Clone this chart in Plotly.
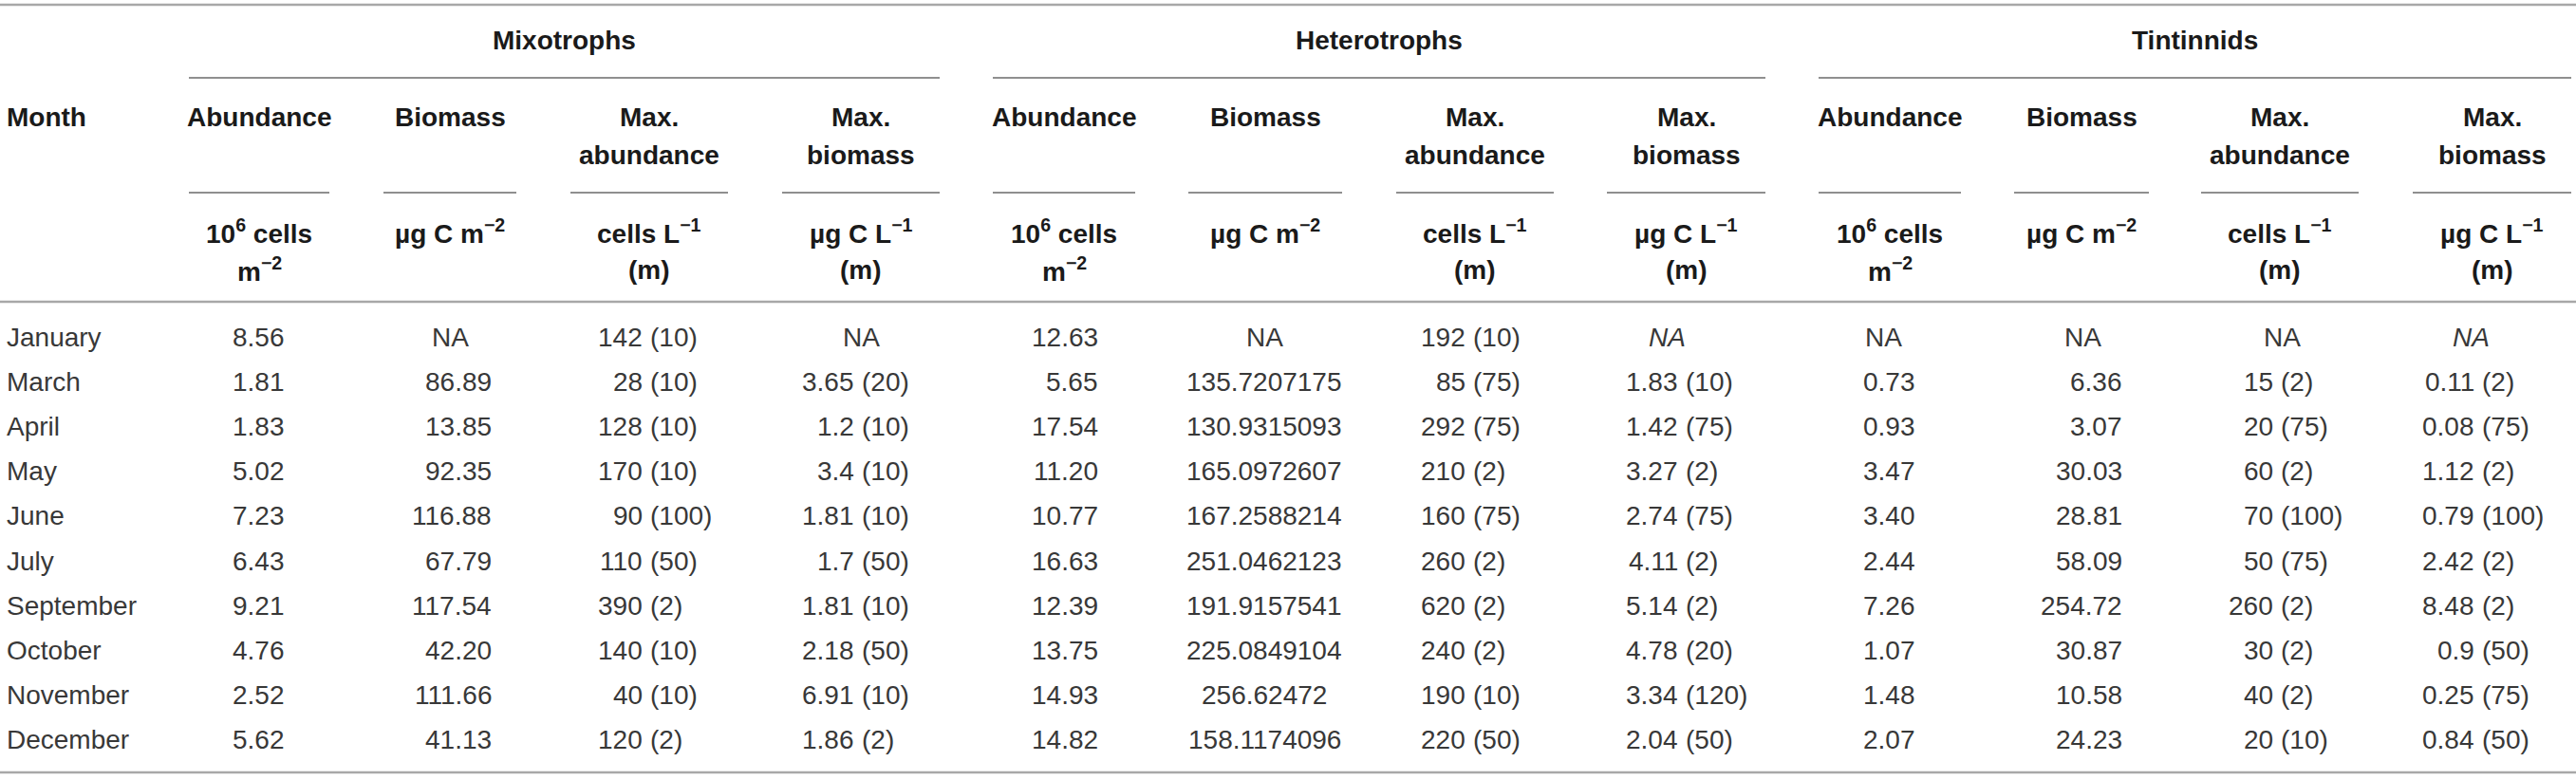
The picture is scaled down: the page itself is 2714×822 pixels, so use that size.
import plotly.graph_objects as go

W, H = 2714, 822

months = ["January", "March", "April", "May", "June", "July",
          "September", "October", "November", "December"]

groups = ["Mixotrophs", "Heterotrophs", "Tintinnids"]
head_line1 = ["Abundance", "Biomass", "Max.", "Max."]
head_line2 = ["", "", "abundance", "biomass"]
unit_line1 = ["10<sup>6</sup> cells", "µg C m<sup>−2</sup>", "cells L<sup>−1</sup>", "µg C L<sup>−1</sup>"]
unit_line2 = ["m<sup>−2</sup>", "", "(m)", "(m)"]

mixo_abundance = ["8.56", "1.81", "1.83", "5.02", "7.23", "6.43", "9.21", "4.76", "2.52", "5.62"]
mixo_biomass = ["NA", "86.89", "13.85", "92.35", "116.88", "67.79", "117.54", "42.20", "111.66", "41.13"]
mixo_max_abund = ["142 (10)", "28 (10)", "128 (10)", "170 (10)", "90 (100)", "110 (50)",
                  "390 (2)", "140 (10)", "40 (10)", "120 (2)"]
mixo_max_biomass = ["NA", "3.65 (20)", "1.2 (10)", "3.4 (10)", "1.81 (10)", "1.7 (50)",
                    "1.81 (10)", "2.18 (50)", "6.91 (10)", "1.86 (2)"]

het_abundance = ["12.63", "5.65", "17.54", "11.20", "10.77", "16.63", "12.39", "13.75", "14.93", "14.82"]
het_biomass = ["NA", "135.7207175", "130.9315093", "165.0972607", "167.2588214", "251.0462123",
               "191.9157541", "225.0849104", "256.62472", "158.1174096"]
het_max_abund = ["192 (10)", "85 (75)", "292 (75)", "210 (2)", "160 (75)", "260 (2)",
                 "620 (2)", "240 (2)", "190 (10)", "220 (50)"]
het_max_biomass = ["<i>NA</i>", "1.83 (10)", "1.42 (75)", "3.27 (2)", "2.74 (75)", "4.11 (2)",
                   "5.14 (2)", "4.78 (20)", "3.34 (120)", "2.04 (50)"]

tin_abundance = ["NA", "0.73", "0.93", "3.47", "3.40", "2.44", "7.26", "1.07", "1.48", "2.07"]
tin_biomass = ["NA", "6.36", "3.07", "30.03", "28.81", "58.09", "254.72", "30.87", "10.58", "24.23"]
tin_max_abund = ["NA", "15 (2)", "20 (75)", "60 (2)", "70 (100)", "50 (75)",
                 "260 (2)", "30 (2)", "40 (2)", "20 (10)"]
tin_max_biomass = ["<i>NA</i>", "0.11 (2)", "0.08 (75)", "1.12 (2)", "0.79 (100)", "2.42 (2)",
                   "8.48 (2)", "0.9 (50)", "0.25 (75)", "0.84 (50)"]

columns = [mixo_abundance, mixo_biomass, mixo_max_abund, mixo_max_biomass,
           het_abundance, het_biomass, het_max_abund, het_max_biomass,
           tin_abundance, tin_biomass, tin_max_abund, tin_max_biomass]

# layout of the table (pixels on a 2714 x 822 sheet)
col_left = [199, 404, 601, 824, 1046, 1252, 1471, 1693, 1916, 2122, 2319, 2542]
col_right = [347, 544, 767, 990, 1196, 1414, 1637, 1860, 2066, 2264, 2485, 2709]
col_align = [("right", 300), ("right", 518), ("split", 681), ("split", 904),
             ("right", 1157), ("center", 1332), ("split", 1548), ("split", 1772),
             ("right", 2018), ("right", 2236), ("split", 2399), ("split", 2611)]
na_x = [272, 474, 684, 907, 1121, 1332, 1554, 1756, 1984, 2194, 2404, 2603]

y_group, y_group_rule = 42, 82
y_head1, y_head2, y_head_rule = 123, 163, 203
y_unit1, y_unit2 = 244, 284
y_top, y_head_bottom, y_bottom = 5, 318, 814
row0, row_pitch = 355, 47.2

FONT = "Liberation Sans, Arial, Helvetica, sans-serif"
FS = 28
head_font = dict(family=FONT, size=FS, color="#1a1a1a", weight="bold")
body_font = dict(family=FONT, size=FS, color="#383838")

fig = go.Figure()
ann = []
shapes = []


def text(x, y, s, font, xanchor="center"):
    ann.append(dict(x=x, y=y, xref="x", yref="y", text=s, showarrow=False,
                    xanchor=xanchor, yanchor="middle", font=font,
                    borderpad=0, borderwidth=0))


def rule(x0, x1, y, color, width):
    shapes.append(dict(type="line", xref="x", yref="y", x0=x0, x1=x1, y0=y, y1=y,
                       line=dict(color=color, width=width)))


# full-width rules
for y in (y_top, y_head_bottom, y_bottom):
    rule(0, W, y, "#a8a8a8", 2.5)

# group headers
text(7, y_head1, "<b>Month</b>", head_font, "left")
for g, name in enumerate(groups):
    x0, x1 = col_left[4 * g], col_right[4 * g + 3]
    text((x0 + x1) / 2, y_group, "<b>%s</b>" % name, head_font)
    rule(x0, x1, y_group_rule, "#6a6a6a", 1.5)

# column headers
for c in range(len(columns)):
    k = c % 4
    xc = (col_left[c] + col_right[c]) / 2
    text(xc, y_head1, "<b>%s</b>" % head_line1[k], head_font)
    if head_line2[k]:
        text(xc, y_head2, "<b>%s</b>" % head_line2[k], head_font)
    rule(col_left[c], col_right[c], y_head_rule, "#6a6a6a", 1.5)
    text(xc, y_unit1, "<b>%s</b>" % unit_line1[k], head_font)
    if unit_line2[k]:
        text(xc, y_unit2, "<b>%s</b>" % unit_line2[k], head_font)

# body
for r, m in enumerate(months):
    y = row0 + r * row_pitch
    text(7, y, m, body_font, "left")
    for c, col in enumerate(columns):
        v = col[r]
        mode, ax = col_align[c]
        if "NA" in v:
            text(na_x[c], y, v, body_font)
        elif mode == "split":
            num, depth = v.split(" ", 1)
            text(ax - 4, y, num, body_font, "right")
            text(ax + 4, y, depth, body_font, "left")
        elif mode == "right":
            text(ax, y, v, body_font, "right")
        else:
            text(ax, y, v, body_font)

fig.update_layout(
    width=W, height=H,
    margin=dict(l=0, r=0, t=0, b=0),
    paper_bgcolor="white", plot_bgcolor="white",
    annotations=ann, shapes=shapes,
    showlegend=False,
)
fig.update_xaxes(range=[0, W], visible=False, fixedrange=True)
fig.update_yaxes(range=[H, 0], visible=False, fixedrange=True)

fig.write_html("out.html", config=dict(displayModeBar=False),
               post_script="document.body.style.margin='0';document.body.style.overflow='hidden';")
